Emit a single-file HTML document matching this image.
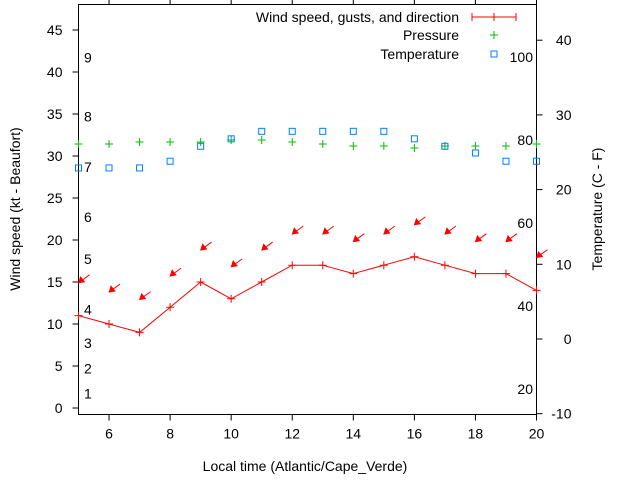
<!DOCTYPE html>
<html><head><meta charset="utf-8"><style>
body{margin:0;background:#fff}
svg{display:block;font-family:"Liberation Sans",Arial,sans-serif;font-size:14px}
</style></head><body>
<svg id="chart" width="640" height="480" viewBox="0 0 640 480" xmlns="http://www.w3.org/2000/svg">
<g id="axes"></g>
<g id="marks"></g>
<g text-anchor="end" fill="#000">
<text x="459" y="22">Wind speed, gusts, and direction</text>
<line x1="472" y1="17" x2="516" y2="17" stroke="#f00"/>
<line x1="472" y1="13" x2="472" y2="21" stroke="#f00"/>
<line x1="516" y1="13" x2="516" y2="21" stroke="#f00"/>
<path d="M490,17h8M494,13v8" stroke="#f00"/>
<text x="459" y="40">Pressure</text>
<path d="M490,35h8M494,31v8" stroke="#00c000"/>
<text x="459" y="59">Temperature</text>
<rect x="491" y="51" width="6" height="6" fill="none" stroke="#0080ff"/>
</g>
<text transform="translate(20,209) rotate(-90)" text-anchor="middle">Wind speed (kt - Beaufort)</text>
<text transform="translate(602,209) rotate(-90)" text-anchor="middle">Temperature (C - F)</text>
<text x="305" y="471" text-anchor="middle">Local time (Atlantic/Cape_Verde)</text>
</svg>
<script>
const hours=[5,6,7,8,9,10,11,12,13,14,15,16,17,18,19,20];
const windSpeed=[11,10,9,12,15,13,15,17,17,16,17,18,17,16,16,14];
const windGust=[14.9,13.8,12.9,15.7,18.8,16.8,18.8,20.7,20.7,19.8,20.7,21.8,20.7,19.8,19.8,17.9];
const pressure=[1013,1013,1014,1014,1014,1015,1015,1014,1013,1012,1012,1011,1012,1012,1012,1013];
const temperature=[22.9,22.9,22.9,23.8,25.8,26.8,27.8,27.8,27.8,27.8,27.8,26.8,25.8,24.9,23.8,23.8];
const xTicks=[6,8,10,12,14,16,18,20];
const yTicks=[0,5,10,15,20,25,30,35,40,45];
const y2Ticks=[-10,0,10,20,30,40];
const beaufortLevels=[1,4,7,11,17,22,28,34,41];
const fahrenheitTicks=[20,40,60,80,100];

const L=78.5,R=536.5,T=4.5,B=414.5;
const X=v=>L+(v-5)/(20-5)*(R-L);
const Y=v=>408-v*8.4;
const Y2=v=>339-v*7.47;
const YP=v=>144-(v-1013)*2;
const NS="http://www.w3.org/2000/svg";
function mk(parent,tag,attrs,text){const e=document.createElementNS(NS,tag);for(const k in attrs)e.setAttribute(k,attrs[k]);if(text!==undefined)e.textContent=text;parent.appendChild(e);return e;}
const ax=document.getElementById('axes'),mg=document.getElementById('marks');
let e=mk(ax,'rect',{x:L,y:T,width:R-L,height:B-T,fill:'none',stroke:'#000'});


xTicks.forEach(t=>{const x=X(t);
 e=mk(ax,'path',{d:`M${x},${B}v6M${x},${T}v-5`,stroke:'#000'});
 
 
 e=mk(ax,'text',{x:x,y:B+24,'text-anchor':'middle'},t);
 
 });
yTicks.forEach(t=>{const y=Y(t);
 e=mk(ax,'path',{d:`M${L},${y}h-6`,stroke:'#000'});
 
 
 e=mk(ax,'text',{x:L-16,y:y+5,'text-anchor':'end'},t);
 
 });
y2Ticks.forEach(t=>{const y=Y2(t);
 e=mk(ax,'path',{d:`M${R},${y}h6`,stroke:'#000'});
 
 
 e=mk(ax,'text',{x:R+35,y:y+5,'text-anchor':'end'},t);
 
 });
beaufortLevels.forEach((v,i)=>{
 e=mk(ax,'text',{x:84,y:Y(v)-1,'font-size':'14px'},i+1);
 
 });
fahrenheitTicks.forEach(f=>{
 e=mk(ax,'text',{x:533,y:Y2((f-32)*5/9)+5,'text-anchor':'end'},f);
 
 });
// wind line
e=mk(mg,'polyline',{points:hours.map((h,i)=>X(h)+','+Y(windSpeed[i])).join(' '),fill:'none',stroke:'#f00'});


hours.forEach((h,i)=>{const x=X(h),y=Y(windSpeed[i]);
 e=mk(mg,'path',{d:`M${x-4},${y}h8M${x},${y-4}v8`,stroke:'#f00'});
 
 });
hours.forEach((h,i)=>{const x=X(h),y=Y(windGust[i]);
 const g=mk(mg,'g',{});
 
 
 mk(g,'line',{x1:x,y1:y,x2:x+11,y2:y-8,stroke:'#f00'});
 mk(g,'polygon',{points:`${x},${y} ${x+6},${y-1} ${x+2},${y-6}`,fill:'#f00',stroke:'#f00','stroke-width':'0.8'});});
hours.forEach((h,i)=>{const x=X(h),y=YP(pressure[i]);
 e=mk(mg,'path',{d:`M${x-4},${y}h8M${x},${y-4}v8`,stroke:'#00c000'});
 
 });
hours.forEach((h,i)=>{const x=X(h),y=Y2(temperature[i]);
 e=mk(mg,'rect',{x:x-3,y:y-3,width:6,height:6,fill:'none',stroke:'#0080ff'});
 
 });
</script>
</body></html>
